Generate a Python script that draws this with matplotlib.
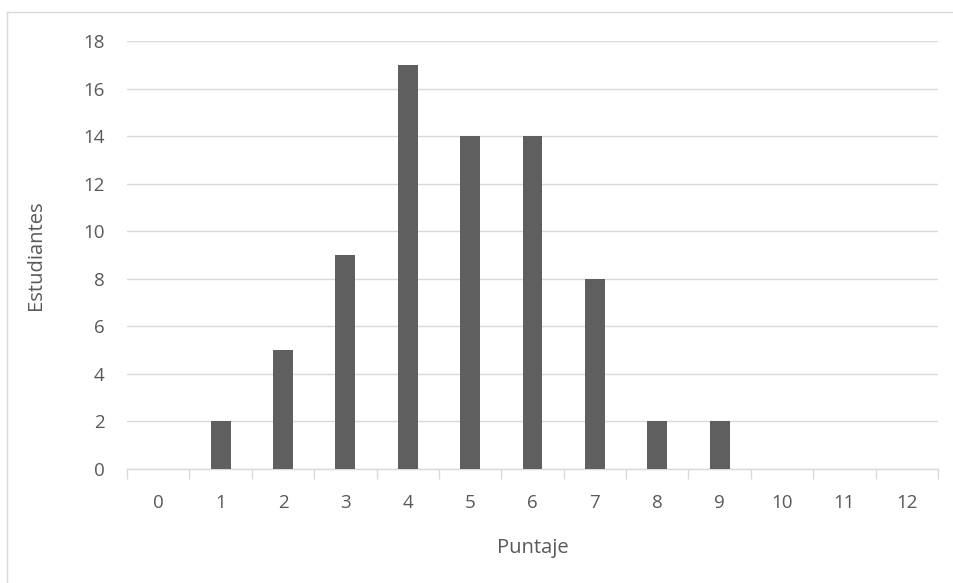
import matplotlib
matplotlib.use("Agg")
import matplotlib.pyplot as plt
from matplotlib.lines import Line2D

categories = ["0", "1", "2", "3", "4", "5", "6", "7", "8", "9", "10", "11", "12"]
students = [0, 2, 5, 9, 17, 14, 14, 8, 2, 2, 0, 0, 0]
y_ticks = [0, 2, 4, 6, 8, 10, 12, 14, 16, 18]

plt.rcParams['font.family'] = ['Open Sans', 'DejaVu Sans']
fig = plt.figure(figsize=(9.54, 5.83), dpi=100)
ax = fig.add_axes([127/954, 1 - 469/583, (938-127)/954, (469-41)/583])

x = list(range(len(categories)))
ax.bar(x, students, width=0.32, color="#5f5f5f", zorder=3)

ax.set_xlim(-0.5, len(categories) - 0.5)
ax.set_ylim(0, 18)
ax.set_yticks(y_ticks)
ax.set_xticks(x)
ax.set_xticklabels(categories)
ax.yaxis.grid(True, color="#d9d9d9", linewidth=1, zorder=0)
for s in ["top", "right", "left"]:
    ax.spines[s].set_visible(False)
ax.spines["bottom"].set_color("#d9d9d9")
ax.spines["bottom"].set_linewidth(1)
ax.tick_params(axis="y", length=0, pad=16, labelsize=13.5, labelcolor="#595959")
ax.tick_params(axis="x", length=0, pad=18, labelsize=13.5, labelcolor="#595959")
# category boundary ticks
ax.set_xticks([i - 0.5 for i in range(len(categories) + 1)], minor=True)
ax.tick_params(axis="x", which="minor", length=7, color="#d9d9d9", width=1)

ax.set_xlabel("Puntaje", fontsize=14.5, color="#595959", labelpad=19)
ax.set_ylabel("Estudiantes", fontsize=14.5, color="#595959", labelpad=27)

# chart border (left and top visible)
fig.add_artist(Line2D([7/954, 7/954], [0, 1 - 12/583], transform=fig.transFigure, color="#d9d9d9", lw=1))
fig.add_artist(Line2D([7/954, 1], [1 - 12/583, 1 - 12/583], transform=fig.transFigure, color="#d9d9d9", lw=1))

fig.savefig("out.png", dpi=100)
